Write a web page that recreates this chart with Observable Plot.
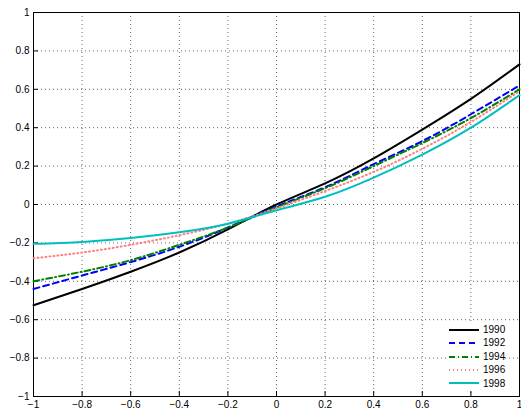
<!DOCTYPE html>
<html><head><meta charset="utf-8">
<script src="https://cdn.jsdelivr.net/npm/d3@7"></script>
<script src="https://cdn.jsdelivr.net/npm/@observablehq/plot@0.6"></script>
<style>body{margin:0;background:#fff;font-family:"Liberation Sans",Arial,sans-serif}#wrap{position:relative;width:521px;height:416px}
#leg{position:absolute;left:449px;top:323px;background:#fff;font-size:10px;line-height:13.4px}
#leg div{display:flex;align-items:center}#leg svg{margin-right:4px}</style></head>
<body><div id="wrap"><div id="chart"></div><div id="leg"></div></div>
<script>
const xs = [-1,-0.8,-0.6,-0.4,-0.2,0,0.2,0.4,0.6,0.8,1];
const years = ["1990","1992","1994","1996","1998"];
const y1990 = [-0.525,-0.44,-0.35,-0.25,-0.13,0.0,0.11,0.24,0.39,0.55,0.73];
const y1992 = [-0.44,-0.37,-0.30,-0.22,-0.12,-0.01,0.09,0.21,0.33,0.47,0.62];
const y1994 = [-0.40,-0.35,-0.29,-0.21,-0.12,-0.015,0.085,0.20,0.32,0.45,0.60];
const y1996 = [-0.28,-0.25,-0.21,-0.16,-0.10,-0.02,0.07,0.17,0.29,0.43,0.59];
const y1998 = [-0.205,-0.195,-0.175,-0.145,-0.10,-0.03,0.04,0.14,0.26,0.40,0.57];
const series = [y1990,y1992,y1994,y1996,y1998];
const colors = ["#000000","#0000ff","#008000","#ff7f7f","#00bfbf"];
const dashes = [null,"6,4","6,3,1,3","1,3",null];
const ticks = d3.range(-1,1.0001,0.2).map(v=>+v.toFixed(1));
const fmt = v => v===0?"0":String(v).replace("-","\u2212");
const marks = [
  Plot.gridX(ticks,{stroke:"#000",strokeOpacity:0.6,strokeDasharray:"1,3"}),
  Plot.gridY(ticks,{stroke:"#000",strokeOpacity:0.6,strokeDasharray:"1,3"}),
  Plot.frame({stroke:"#000"}),
  Plot.axisX({ticks,tickFormat:fmt,tickSize:-5,tickPadding:9,fontSize:10}),
  Plot.axisY({ticks,tickFormat:fmt,tickSize:-5,tickPadding:9,fontSize:10}),
];
series.forEach((s,i)=>marks.push(Plot.line(xs.map((x,j)=>({x,y:s[j]})),{x:"x",y:"y",curve:"natural",stroke:colors[i],strokeWidth:2,strokeDasharray:dashes[i]})));
const p = Plot.plot({width:521,height:416,marginLeft:33,marginRight:2,marginTop:12,marginBottom:20,
  style:{fontFamily:"Liberation Sans, Arial, sans-serif",fontSize:"10px",color:"#000"},
  x:{domain:[-1,1],label:null},y:{domain:[-1,1],label:null},marks});
document.getElementById("chart").append(p);
const leg=document.getElementById("leg");
years.forEach((y,i)=>{const d=document.createElement("div");
 d.innerHTML=`<svg width="30" height="6"><line x1="0" x2="30" y1="3" y2="3" stroke="${colors[i]}" stroke-width="2" ${dashes[i]?`stroke-dasharray="${dashes[i]}"`:""}/></svg>${y}`;leg.append(d);});
</script></body></html>
